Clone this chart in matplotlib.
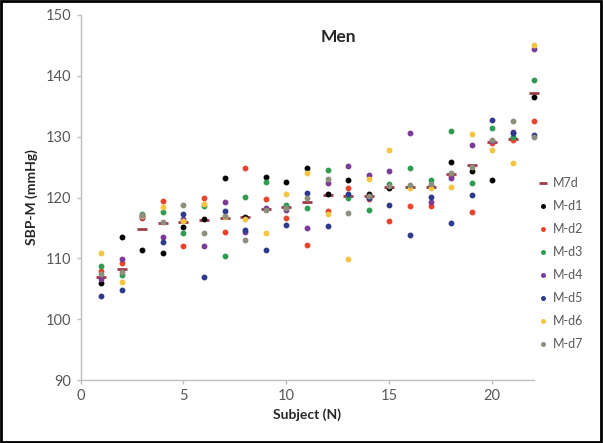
import matplotlib
matplotlib.use('Agg')
import matplotlib.pyplot as plt
from matplotlib.patches import Rectangle
import numpy as np

subjects = np.arange(1, 23)

m7d = [107.0, 108.2, 114.8, 115.8, 116.0, 116.3, 116.6, 116.8, 118.1, 118.5, 119.3,
       120.4, 120.3, 120.3, 121.7, 121.8, 121.8, 123.8, 125.3, 129.2, 129.6, 137.1]
d1 = [106.0, 113.5, 111.3, 110.9, 115.1, 116.5, 123.2, 116.8, 123.3, 122.5, 124.9,
      120.6, 122.9, 120.5, 121.5, 121.8, 121.9, 125.9, 124.3, 122.9, 129.8, 136.6]
d2 = [108.0, 109.3, 116.6, 119.5, 112.0, 120.0, 114.4, 124.9, 119.8, 116.6, 112.2,
      117.8, 121.6, 119.8, 116.2, 118.6, 118.6, 123.5, 117.6, 129.0, 129.4, 132.5]
d3 = [108.7, 107.2, 117.3, 117.6, 114.2, 118.6, 110.4, 120.1, 122.6, 118.7, 118.2,
      124.6, 120.0, 117.9, 122.2, 124.8, 122.9, 131.0, 122.4, 131.4, 129.9, 139.3]
d4 = [106.6, 109.9, 116.8, 113.5, 116.4, 112.0, 119.3, 114.4, 118.3, 118.0, 115.0,
      122.4, 125.1, 123.7, 124.3, 130.6, 119.3, 123.2, 128.6, 129.3, 130.8, 144.4]
d5 = [103.8, 104.8, 117.0, 112.7, 117.3, 106.9, 117.8, 114.6, 111.3, 115.5, 120.7,
      115.3, 120.5, 120.0, 118.8, 113.8, 120.1, 115.8, 120.4, 132.8, 130.6, 130.3]
d6 = [110.9, 106.1, 116.9, 118.5, 116.2, 119.0, 116.8, 116.5, 114.2, 120.6, 124.0,
      117.3, 109.9, 123.0, 127.8, 121.5, 121.6, 121.8, 130.4, 127.8, 125.6, 145.1]
d7 = [107.5, 107.8, 117.1, 116.0, 118.8, 114.1, 117.0, 113.0, 118.0, 118.3, 120.0,
      123.0, 117.4, 120.2, 121.9, 122.0, 122.2, 124.0, 125.0, 129.5, 132.6, 129.9]

series = [('M-d1', d1, '#000000'), ('M-d2', d2, '#E8452C'), ('M-d3', d3, '#2F9C52'),
          ('M-d4', d4, '#7A3C96'), ('M-d5', d5, '#2E3A8C'), ('M-d6', d6, '#F4C542'),
          ('M-d7', d7, '#8E8E7C')]

plt.rcParams['font.family'] = ['Lato', 'DejaVu Sans']

fig = plt.figure(figsize=(6.03, 4.43), dpi=100)
ax = fig.add_axes([80.5/603, 63/443, 453/603, 365/443])

ax.plot(subjects, m7d, linestyle='none', marker='_', markersize=7.5, markeredgewidth=2,
        color='#9E3D4A', label='M7d', clip_on=False)
for name, vals, col in series:
    ax.plot(subjects, vals, linestyle='none', marker='o', markersize=3.2,
            color=col, label=name, clip_on=False)

ax.set_xlim(0, 22)
ax.set_ylim(90, 150)
ax.set_xticks([0, 5, 10, 15, 20])
ax.set_yticks(np.arange(90, 151, 10))
for s in ['top', 'right']:
    ax.spines[s].set_visible(False)
for s in ['left', 'bottom']:
    ax.spines[s].set_color('#BFBFBF')
    ax.spines[s].set_linewidth(1.0)
ax.tick_params(axis='both', colors='#BFBFBF', labelcolor='#595959', labelsize=10.5,
               length=3, width=1)

fig.text(338/603, 1 - 37/443, 'Men', ha='center', va='center', fontsize=12.5,
         fontweight='bold', color='#262626')
ax.set_xlabel('Subject (N)', fontsize=10, fontweight='bold', color='#262626', labelpad=4)
ax.set_ylabel('SBP-M (mmHg)', fontsize=10, fontweight='bold', color='#262626', labelpad=6)

ax.legend(loc='upper left', bbox_to_anchor=(533/603, 1 - 171/443),
          bbox_transform=fig.transFigure, frameon=False, fontsize=9,
          labelcolor='#595959', handlelength=0.6, handletextpad=0.5,
          labelspacing=0.88, borderpad=0, markerscale=0.8)

fig.patches.append(Rectangle((0.002, 0.003), 0.995, 0.994, transform=fig.transFigure,
                             fill=False, edgecolor='black', linewidth=2))

plt.savefig('out.png', dpi=100)
